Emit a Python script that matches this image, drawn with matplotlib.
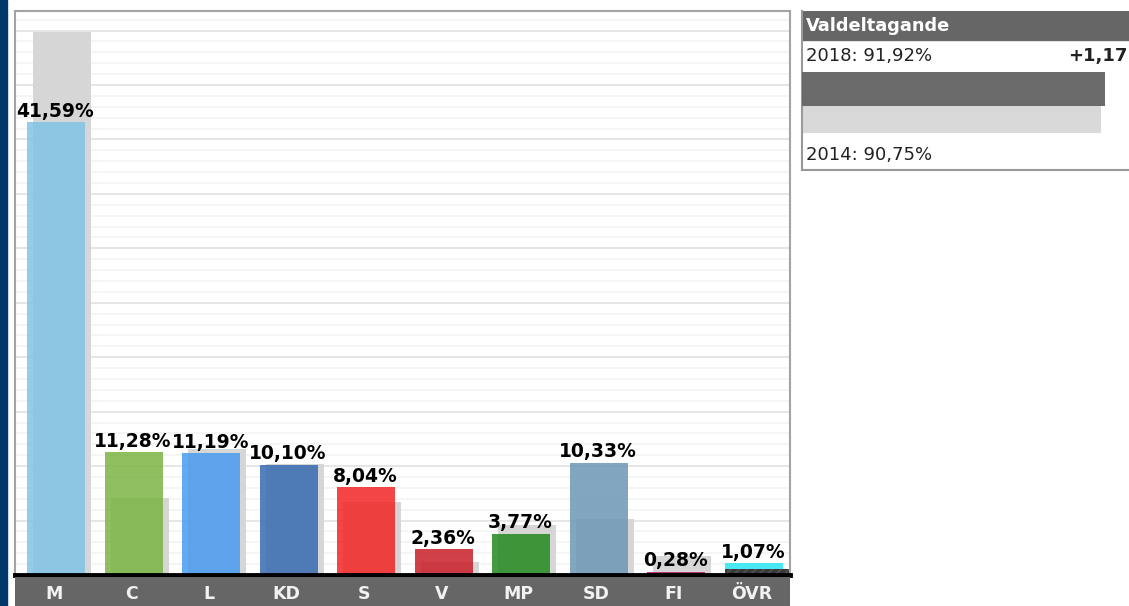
import matplotlib.pyplot as plt
from matplotlib.patches import Rectangle

# Data
parties = ["M", "C", "L", "KD", "S", "V", "MP", "SD", "FI", "ÖVR"]
share_2018 = [41.59, 11.28, 11.19, 10.10, 8.04, 2.36, 3.77, 10.33, 0.28, 1.07]
share_2014 = [49.9, 7.1, 11.6, 10.2, 6.7, 1.15, 4.6, 5.15, 1.7, 0.55]
party_colors = ["#81c4e6", "#7bb443", "#479bf0", "#366ab1", "#f32525",
                "#c81e28", "#22891e", "#6c97b5", "#b51663", "#28e4f3"]

turnout_years = ["2018", "2014"]
turnout = [91.92, 90.75]

W, H = 1129, 606
fig = plt.figure(figsize=(W / 100, H / 100), dpi=100)
fig.patch.set_facecolor("white")

# dark blue strip on the far left
fig.patches.append(Rectangle((0, 0), 7 / W, 1, transform=fig.transFigure,
                             color="#00386a", zorder=0))

def fig_axes(x0, y0, x1, y1):
    # pixel box (top-left origin) -> figure axes
    return fig.add_axes([x0 / W, 1 - y1 / H, (x1 - x0) / W, (y1 - y0) / H])

# main bar chart
ax = fig_axes(15, 11, 790, 575)
ax.set_xlim(-0.5, len(parties) - 0.5)
ax.set_ylim(0, 51.8)
ax.set_yticks(range(0, 52, 5))
ax.set_yticks(range(0, 52, 1), minor=True)
ax.grid(axis="y", which="major", color="#e4e4e4", lw=1.3, zorder=0)
ax.grid(axis="y", which="minor", color="#f3f3f3", lw=1.1, zorder=0)
ax.tick_params(which="both", length=0, labelleft=False, labelbottom=False)
ax.set_xticks([])
for side in ["top", "left", "right"]:
    ax.spines[side].set_color("#a3a3a3")
    ax.spines[side].set_linewidth(1.5)
ax.spines["bottom"].set_visible(False)

x = list(range(len(parties)))
ax.bar([i + 0.11 for i in x], share_2014, width=0.75, color="#d6d6d6", zorder=2)
ax.bar([i + 0.03 for i in x], share_2018, width=0.75, color=party_colors,
       alpha=0.85, zorder=3)
# dark hatched base on the "other" bar
ax.bar(x[-1] + 0.07, share_2014[-1], width=0.83, color="#3a3a3a",
       hatch="////", edgecolor="#555555", lw=0, zorder=4)

for i, v in enumerate(share_2018):
    ax.text(i + 0.02, v + 0.15, f"{v:.2f}%".replace(".", ","), ha="center",
            va="bottom", fontsize=13.5, fontweight="bold", color="black", zorder=5)

ax.axhline(0, color="black", lw=3.5, zorder=6, clip_on=False)

# category band
band = fig_axes(15, 577, 790, 606)
band.set_facecolor("#666666")
band.set_xlim(-0.5, len(parties) - 0.5)
band.set_ylim(0, 1)
band.set_xticks([])
band.set_yticks([])
for s in band.spines.values():
    s.set_visible(False)
for i, p in enumerate(parties):
    band.text(i, 0.42, p, ha="center", va="center", fontsize=12.5,
              fontweight="bold", color="#f2f2f2")

# turnout panel
tp = fig_axes(802, 11, 1129, 170)
px_per_pct = 3.296
xmax = (1129 - 802) / px_per_pct
tp.set_xlim(0, xmax)
tp.set_ylim(159, 0)
tp.set_xticks([])
tp.set_yticks([])
for side in ["left", "bottom"]:
    tp.spines[side].set_color("#999999")
    tp.spines[side].set_linewidth(1.5)
tp.spines["top"].set_visible(False)
tp.spines["right"].set_visible(False)

tp.add_patch(Rectangle((0, 0), xmax, 29, color="#666666", zorder=1))
tp.text(1.2, 15, "Valdeltagande", ha="left", va="center", fontsize=12.8,
        fontweight="bold", color="white", zorder=2)
tp.text(1.2, 45, f"{turnout_years[0]}: {turnout[0]:.2f}%".replace(".", ","),
        ha="left", va="center", fontsize=13, color="#222222")
diff = turnout[0] - turnout[1]
tp.text(xmax - 0.6, 45, f"{diff:+.2f}".replace(".", ","), ha="right",
        va="center", fontsize=13, fontweight="bold", color="#222222")
tp.barh(104.5, turnout[1], height=35, left=0, color="#d9d9d9", zorder=2)
tp.barh(78, turnout[0], height=34, left=0, color="#666666", alpha=0.97, zorder=3)
tp.text(1.2, 144, f"{turnout_years[1]}: {turnout[1]:.2f}%".replace(".", ","),
        ha="left", va="center", fontsize=13, color="#222222")

fig.savefig("out.png", dpi=100)
